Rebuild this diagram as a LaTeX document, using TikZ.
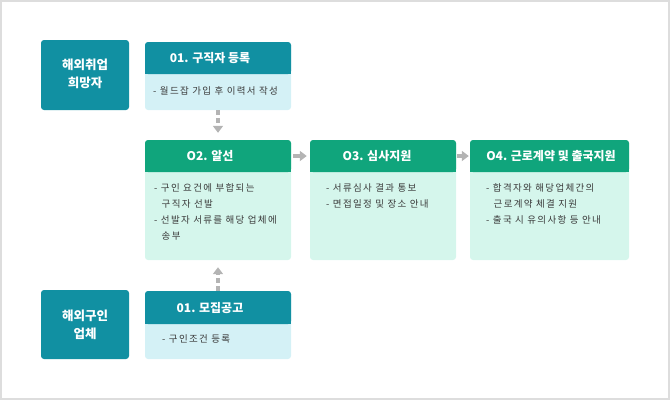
\documentclass[tikz,border=0pt]{standalone}
\usepackage{fontspec}
\setmainfont{Noto Sans CJK KR}
\usetikzlibrary{arrows.meta}
\definecolor{teal}{HTML}{1190A2}
\definecolor{grn}{HTML}{10A57C}
\definecolor{lblue}{HTML}{D4F1F6}
\definecolor{mint}{HTML}{D5F6EC}
\definecolor{txt}{HTML}{3A3A3A}
\definecolor{arrg}{HTML}{B4B4B4}
\definecolor{frame}{HTML}{DDDDDD}
\tikzset{
  hdrtext/.style={text=white,font=\fontsize{12}{14}\selectfont\bfseries,inner sep=0pt},
  sidetext/.style={text=white,font=\fontsize{12.5}{18}\selectfont\bfseries,align=center,inner sep=0pt},
  bodytext/.style={text=txt,font=\fontsize{9.5}{16}\selectfont\addfontfeature{LetterSpace=14},align=left,inner sep=0pt,anchor=north west},
  boxarea/.style={inner sep=0pt,draw=none},
  flowarr/.style={draw=arrg,line width=4pt,-{Triangle[width=10pt,length=7pt]}},
  dasharr/.style={flowarr,dash pattern=on 5pt off 3pt},
}
\begin{document}
\begin{tikzpicture}[x=1pt,y=-1pt]
\useasboundingbox (0,0) rectangle (670,400);
\draw[frame,line width=2pt] (1,1) rectangle (669,399);
% side boxes
\fill[teal,rounded corners=3pt] (41,40) rectangle (129,110);
\node[sidetext] (job) at (85,74) {해외취업\\희망자};
\fill[teal,rounded corners=3pt] (41,290) rectangle (129,359);
\node[sidetext] (cmp) at (85,325) {해외구인\\업체};
% box 01 top
\fill[lblue,rounded corners=3pt] (145,42) rectangle (291,110);
\fill[teal,rounded corners=3pt] (145,42) rectangle (291,74);
\fill[teal] (145,68) rectangle (291,74);
\node[boxarea,minimum width=146pt,minimum height=68pt] (s1) at (218,76) {};
\node[hdrtext] (s1h) at (210,58) {01. 구직자 등록};
\node[bodytext] (s1b) at (153,86.5) {- 월드잡 가입 후 이력서 작성};
% box 01 bottom
\fill[lblue,rounded corners=3pt] (145,291) rectangle (291,359);
\fill[teal,rounded corners=3pt] (145,291) rectangle (291,324);
\fill[teal] (145,318) rectangle (291,324);
\node[boxarea,minimum width=146pt,minimum height=68pt] (r1) at (218,325) {};
\node[hdrtext] (r1h) at (210,308) {01. 모집공고};
\node[bodytext] (r1b) at (162,334.5) {- 구인조건 등록};
% box 02
\fill[mint,rounded corners=3pt] (145,140) rectangle (291,260);
\fill[grn,rounded corners=3pt] (145,140) rectangle (291,172);
\fill[grn] (145,166) rectangle (291,172);
\node[boxarea,minimum width=146pt,minimum height=120pt] (s2) at (218,200) {};
\node[hdrtext] (s2h) at (210,156) {O2. 알선};
\node[bodytext] (s2b) at (154,183.5) {- 구인 요건에 부합되는\\\hspace*{7.5pt}구직자 선발\\- 선발자 서류를 해당 업체에\\\hspace*{7.5pt}송부};
% box 03
\fill[mint,rounded corners=3pt] (310,140) rectangle (456,260);
\fill[grn,rounded corners=3pt] (310,140) rectangle (456,172);
\fill[grn] (310,166) rectangle (456,172);
\node[boxarea,minimum width=146pt,minimum height=120pt] (s3) at (383,200) {};
\node[hdrtext] (s3h) at (377,156) {O3. 심사지원};
\node[bodytext] (s3b) at (326,183.5) {- 서류심사 결과 통보\\- 면접일정 및 장소 안내};
% box 04
\fill[mint,rounded corners=3pt] (470,140) rectangle (629,260);
\fill[grn,rounded corners=3pt] (470,140) rectangle (629,172);
\fill[grn] (470,166) rectangle (629,172);
\node[boxarea,minimum width=159pt,minimum height=120pt] (s4) at (549.5,200) {};
\node[hdrtext] (s4h) at (551,156) {O4. 근로계약 및 출국지원};
\node[bodytext] (s4b) at (486,183.5) {- 합격자와 해당업체간의\\\hspace*{7.5pt}근로계약 체결 지원\\- 출국 시 유의사항 등 안내};
% arrows
\draw[dasharr,shorten >=7pt] (s1.south) -- (s2.north);
\draw[dasharr,shorten >=7pt] (r1.north) -- (s2.south);
\draw[flowarr,shorten <=2pt,shorten >=3pt] (s2.east |- s2h) -- (s3.west |- s3h);
\draw[flowarr,shorten <=1pt,shorten >=1pt] (s3.east |- s3h) -- (s4.west |- s4h);
\end{tikzpicture}
\end{document}
